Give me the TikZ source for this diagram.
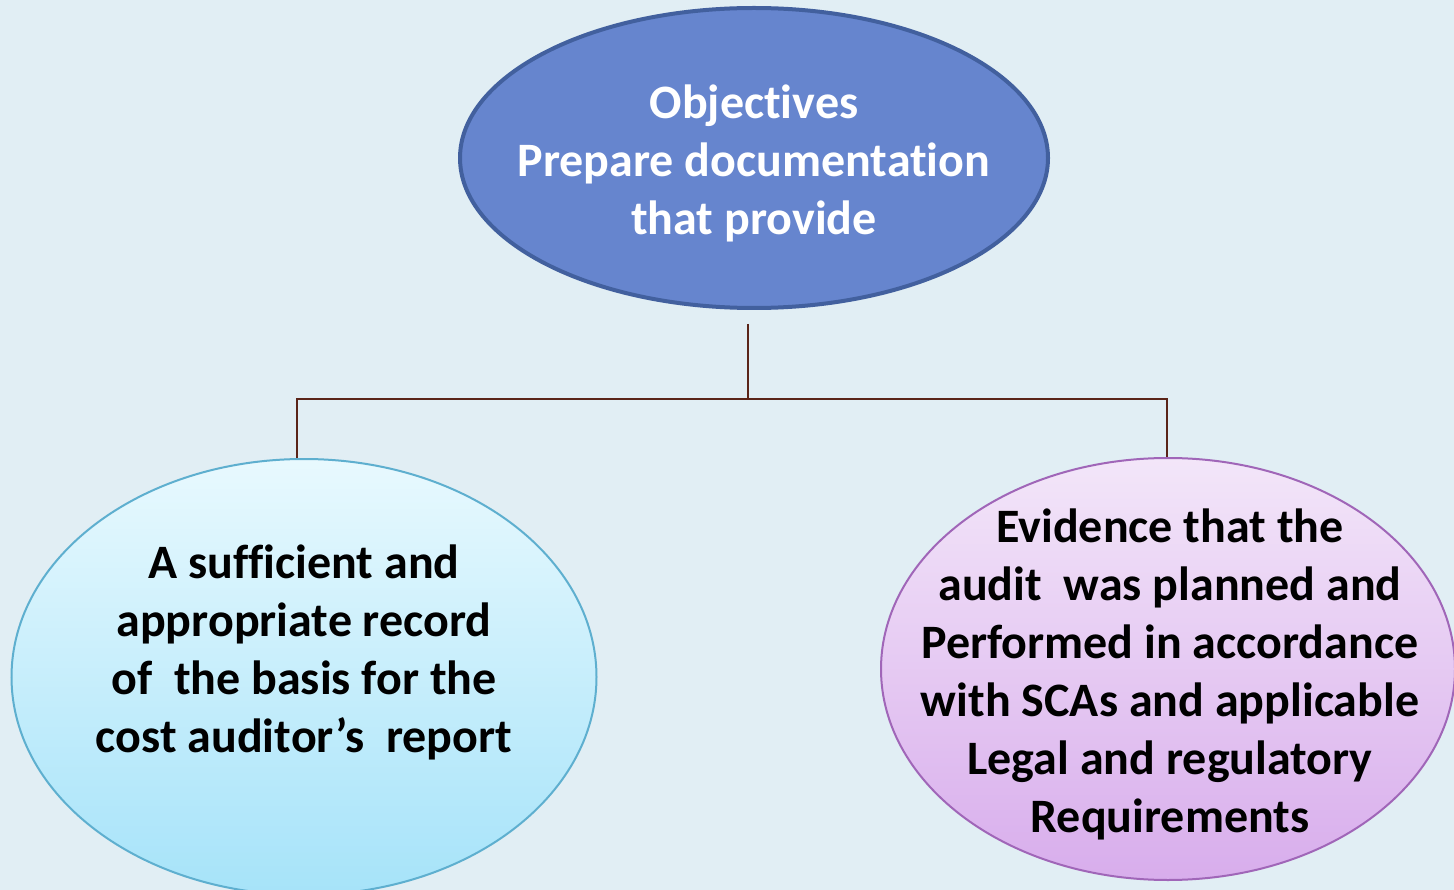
\documentclass[tikz,border=0pt]{standalone}
\usepackage{fontspec}
\setmainfont{Carlito}[RawFeature=-liga]
\usetikzlibrary{shapes.geometric}
\definecolor{bgc}{HTML}{E1EEF4}
\definecolor{topfill}{HTML}{6685CE}
\definecolor{topline}{HTML}{42609E}
\definecolor{ltop}{HTML}{E8F9FE}
\definecolor{lbot}{HTML}{A6E3F9}
\definecolor{lline}{HTML}{5EAFCF}
\definecolor{rtop}{HTML}{F3E6F9}
\definecolor{rbot}{HTML}{D8ADEC}
\definecolor{rline}{HTML}{A066B8}
\definecolor{conn}{HTML}{5A2418}
\tikzset{
  oval/.style={ellipse, inner sep=0pt},
  lbl/.style={align=center, font=\fontsize{48}{58}\selectfont\bfseries},
  connector/.style={draw=conn, line width=2pt}
}
\begin{document}
\begin{tikzpicture}[x=1pt,y=-1pt]
\useasboundingbox (0,0) rectangle (1454,890);
\fill[bgc] (0,0) rectangle (1454,890);
\clip (0,0) rectangle (1454,890);
\node[oval, fill=topfill, draw=topline, line width=4pt, minimum width=588pt, minimum height=300pt] (top) at (754,158) {};
\node[oval, top color=ltop, bottom color=lbot, draw=lline, line width=2pt, minimum width=585pt, minimum height=436pt] (left) at (304,677) {};
\node[oval, top color=rtop, bottom color=rbot, draw=rline, line width=2pt, minimum width=574pt, minimum height=422pt] (right) at (1168,669) {};
\node[lbl, text=white] (toptext) at (754,163) {Objectives\\Prepare documentation\\that provide};
\node[lbl, text=black] (lefttext) at (304,652) {A sufficient and\\appropriate record\\of\ \ the basis for the\\cost auditor’s\ \ report};
\node[lbl, text=black] (righttext) at (1170,674) {Evidence that the\\audit\ \ was planned and\\Performed in accordance\\with SCAs and applicable\\Legal and regulatory\\Requirements};
\coordinate (stem) at (748,324);
\coordinate (hub) at (748,399);
\draw[connector] (stem) -- (hub);
\draw[connector] ([xshift=-7pt]left.north) |- (hub) -| ([xshift=-1pt]right.north);
\end{tikzpicture}
\end{document}
